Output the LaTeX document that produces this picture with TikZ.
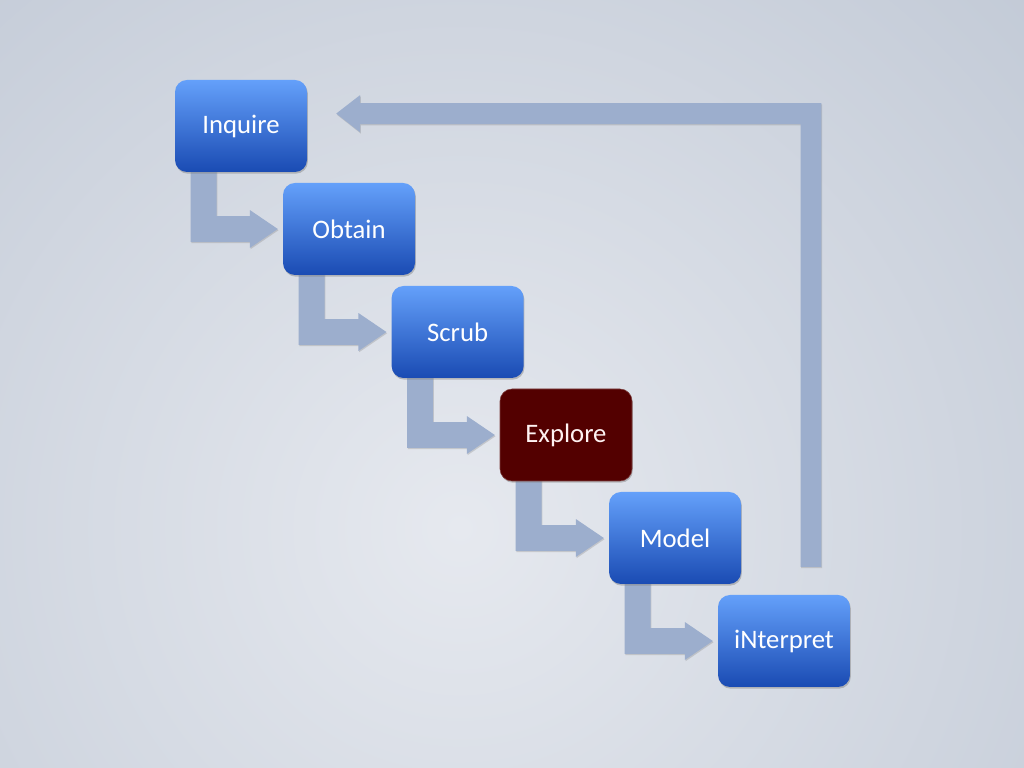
\documentclass[tikz,border=0pt]{standalone}
\usepackage{fontspec}
\setmainfont{Carlito}
\usetikzlibrary{calc,shadows,backgrounds}

\definecolor{boxTop}{HTML}{64A0FA}
\definecolor{boxBot}{HTML}{1A4BB3}
\definecolor{exploreRed}{HTML}{530000}
\definecolor{flowBlue}{HTML}{9CAECD}
\definecolor{bgIn}{HTML}{E6E9EF}
\definecolor{bgOut}{HTML}{A9B4C5}

\begin{document}
\begin{tikzpicture}[
  box/.style={rounded corners=0.3cm, minimum width=3.3cm, minimum height=2.3cm,
    font=\fontsize{19}{22}\selectfont,
    drop shadow={shadow xshift=0.6pt, shadow yshift=-1.2pt, opacity=0.45}},
  stage/.style={box, top color=boxTop, bottom color=boxBot, text=white},
  hot/.style={box, fill=exploreRed, draw=exploreRed!75!white, text=red!5!white},
  bent/.style={fill=flowBlue,
    drop shadow={shadow xshift=0.5pt, shadow yshift=-0.9pt, opacity=0.3}}
]
\useasboundingbox (0,0) rectangle (25.6,19.2);

% the six stages
\node[stage] (inq) at (6.025,16.05)  {Inquire};
\node[stage] (obt) at (8.725,13.475) {Obtain};
\node[stage] (scr) at (11.44,10.9)   {Scrub};
\node[hot]   (exp) at (14.15,8.325)  {Explore};
\node[stage] (mod) at (16.875,5.75)  {Model};
\node[stage] (int) at (19.6,3.175)   {iNterpret};

\begin{pgfonlayer}{background}
  \begin{scope}
    \clip (0,0) rectangle (25.6,19.2);
    \shade[inner color=bgIn, outer color=bgOut] (11.5,6) circle (34cm);
  \end{scope}

  % step arrows
  \foreach \a/\b in {inq/obt, obt/scr, scr/exp, exp/mod, mod/int}
    \fill[bent] let \p1=(\a.south west), \p2=(\b.west) in
      (\x1+11.3pt,\y1+2pt) -- (\x1+29.8pt,\y1+2pt) -- (\x1+29.8pt,\y2+9.2pt)
      -- (\x2-23.4pt,\y2+9.2pt) -- (\x2-23.4pt,\y2+13.5pt) -- (\x2-3.5pt,\y2)
      -- (\x2-23.4pt,\y2-13.5pt) -- (\x2-23.4pt,\y2-9.2pt)
      -- (\x1+11.3pt,\y2-9.2pt) -- cycle;

  % back to the start
  \fill[bent] let \p1=(int.north east), \p2=(inq.east) in
    (\x1-35.4pt,\y1+19.8pt) -- (\x1-20.6pt,\y1+19.8pt) -- (\x1-20.6pt,\y2+16.3pt)
    -- (\x2+37.6pt,\y2+16.3pt) -- (\x2+37.6pt,\y2+22pt) -- (\x2+20.6pt,\y2+8.85pt)
    -- (\x2+37.6pt,\y2-4.5pt) -- (\x2+37.6pt,\y2+1.4pt)
    -- (\x1-35.4pt,\y2+1.4pt) -- cycle;
\end{pgfonlayer}
\end{tikzpicture}
\end{document}
